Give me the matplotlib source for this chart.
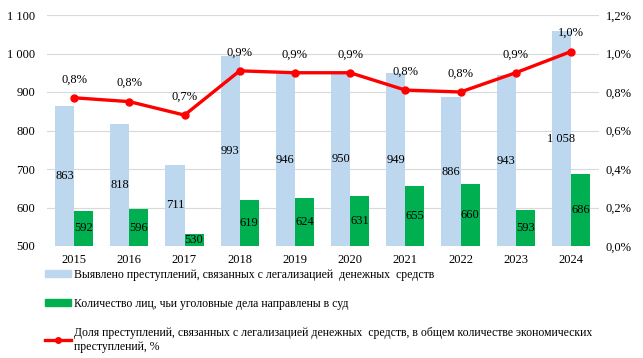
import matplotlib.pyplot as plt
import numpy as np
from matplotlib.patches import Patch
from matplotlib.lines import Line2D

plt.rcParams['font.family'] = ['Liberation Serif', 'DejaVu Serif']
plt.rcParams['font.size'] = 8

years = ["2015", "2016", "2017", "2018", "2019", "2020", "2021", "2022", "2023", "2024"]
detected = [863, 818, 711, 993, 946, 950, 949, 886, 943, 1058]
persons = [592, 596, 530, 619, 624, 631, 655, 660, 593, 686]
share = [0.77, 0.75, 0.68, 0.91, 0.90, 0.90, 0.81, 0.80, 0.90, 1.01]
share_labels = ["0,8%", "0,8%", "0,7%", "0,9%", "0,9%", "0,9%", "0,8%", "0,8%", "0,9%", "1,0%"]

blue = "#bdd7ee"
green = "#00b050"
red = "#ff0000"

def fmt(v):
    return f"{v:,}".replace(",", " ")

fig = plt.figure(figsize=(6.43, 3.58), dpi=100)
ax = fig.add_axes([46.5 / 643, 1 - 246 / 358, 552 / 643, 231 / 358])
ax2 = ax.twinx()

x = np.arange(len(years))
w = 0.345
ax.bar(x - w / 2, np.array(detected) - 500, w, bottom=500, color=blue, zorder=2)
ax.bar(x + w / 2, np.array(persons) - 500, w, bottom=500, color=green, zorder=2)

for xi, v in zip(x, detected):
    ax.text(xi - w / 2, (500 + v) / 2, fmt(v), ha="center", va="center", fontsize=9, zorder=3)
for xi, v in zip(x, persons):
    ax.text(xi + w / 2, (500 + v) / 2, fmt(v), ha="center", va="center", fontsize=9, zorder=3)

ax.set_ylim(500, 1100)
ax.set_yticks(range(500, 1101, 100))
ax.set_yticklabels([fmt(v) for v in range(500, 1101, 100)])
ax.set_xlim(-0.5, len(years) - 0.5)
ax.set_xticks(x)
ax.set_xticklabels(years)
ax.grid(axis="y", color="#d9d9d9", linewidth=0.8, zorder=0)
ax.set_axisbelow(True)

ax2.plot(x, share, color=red, linewidth=2.4, marker="o", markersize=5, zorder=4)
for xi, v, lab in zip(x, share, share_labels):
    ax2.annotate(lab, (xi, v), xytext=(0, 9), textcoords="offset points",
                 ha="center", va="bottom", fontsize=9)
ax2.set_ylim(0, 1.2)
ax2.set_yticks(np.arange(0, 1.21, 0.2))
ax2.set_yticklabels([f"{v:.1f}%".replace(".", ",") for v in np.arange(0, 1.21, 0.2)])

for a in (ax, ax2):
    for s in a.spines.values():
        s.set_visible(False)
    a.tick_params(length=0, labelsize=9)
ax.tick_params(axis="x", pad=6)
ax.tick_params(axis="y", pad=8)
ax2.tick_params(axis="y", pad=5)

handles = [
    Patch(color=blue),
    Patch(color=green),
    Line2D([0], [0], color=red, linewidth=2.4, marker="o", markersize=4),
]
labels = [
    "Выявлено преступлений, связанных с легализацией  денежных  средств",
    "Количество лиц, чьи уголовные дела направлены в суд",
    "Доля преступлений, связанных с легализацией денежных  средств, в общем количестве экономических\nпреступлений, %",
]
leg = fig.legend(handles, labels, loc="upper left", bbox_to_anchor=(40 / 643, 1 - 264 / 358),
                 frameon=False, fontsize=8.5, handlelength=2.2, handleheight=0.6,
                 handletextpad=0.3, labelspacing=1.45, borderaxespad=0)
for t in leg.get_texts():
    t.set_linespacing(1.2)

fig.savefig("out.png", dpi=100)
